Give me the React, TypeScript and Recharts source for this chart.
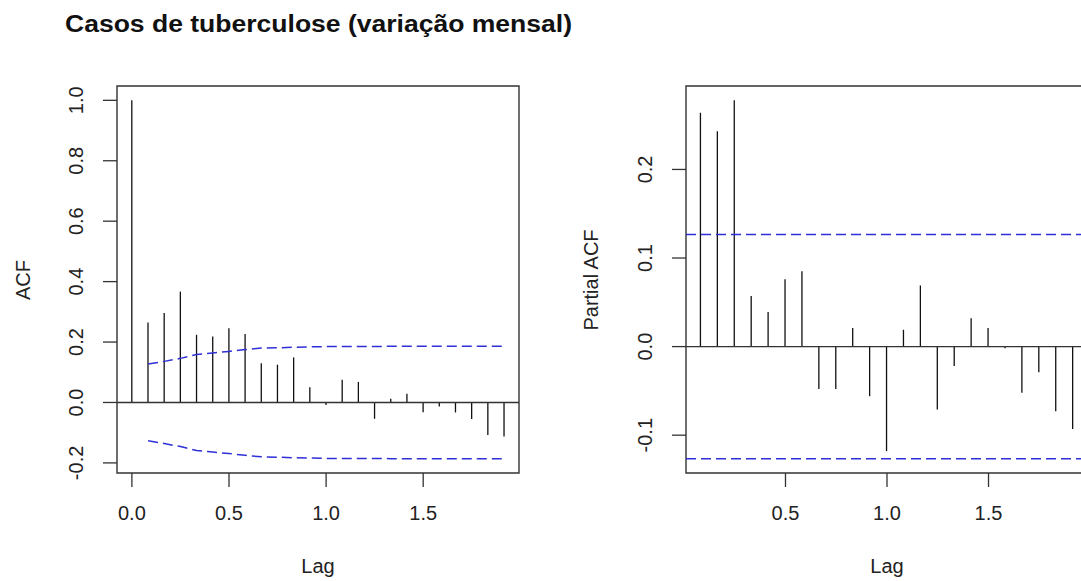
import { ComposedChart, Bar, Line, XAxis, YAxis, ReferenceLine, ReferenceArea } from 'recharts';

// lag in months (plotted as years: months / 12)
const lagMonths = [0, 1, 2, 3, 4, 5, 6, 7, 8, 9, 10, 11, 12, 13, 14, 15, 16, 17, 18, 19, 20, 21, 22, 23];

const acfValues = [
  1.0, 0.265, 0.296, 0.367, 0.224, 0.218, 0.246, 0.227, 0.13, 0.125, 0.149, 0.05,
  -0.008, 0.075, 0.068, -0.054, 0.012, 0.029, -0.032, -0.013, -0.033, -0.055, -0.108, -0.113,
];

// MA-type confidence bound, lags 1..23
const acfCi = [
  0.127, 0.136, 0.146, 0.159, 0.164, 0.169, 0.175, 0.18, 0.181, 0.183, 0.184, 0.185,
  0.185, 0.185, 0.185, 0.186, 0.186, 0.186, 0.186, 0.186, 0.186, 0.186, 0.186,
];

// partial ACF, lags 1..23
const pacfValues = [
  0.264, 0.243, 0.278, 0.057, 0.039, 0.076, 0.085, -0.048, -0.048, 0.021, -0.056, -0.118,
  0.019, 0.069, -0.071, -0.022, 0.032, 0.021, -0.002, -0.052, -0.029, -0.073, -0.093,
];
const pacfCi = 0.1265;

const acfXTicks = [0, 0.5, 1, 1.5];
const acfYTicks = [-0.2, 0, 0.2, 0.4, 0.6, 0.8, 1.0];
const pacfXTicks = [0.5, 1, 1.5];
const pacfYTicks = [-0.1, 0, 0.1, 0.2];

const acfXDomain = [-0.0767, 1.9933];
const acfYDomain = [-0.2334, 1.0474];
const pacfXDomain = [0.01, 1.99];
const pacfYDomain = [-0.1427, 0.2942];

const FONT = '"Liberation Sans", Arial, Helvetica, sans-serif';
const BLUE = '#2f2fd8';
const AXIS = '#333';
const DASH = '10 5';

const acfData = lagMonths.map((m, i) => ({
  lag: m / 12,
  acf: acfValues[i],
  upper: i === 0 ? null : acfCi[i - 1],
  lower: i === 0 ? null : -acfCi[i - 1],
}));

const pacfData = lagMonths.slice(1).map((m, i) => ({
  lag: m / 12,
  pacf: pacfValues[i],
}));

const Stem = (props: any) => {
  const { x, y, width, height } = props;
  if (x == null || y == null) return null;
  const cx = x + width / 2;
  return <line x1={cx} x2={cx} y1={y} y2={y + height} stroke="#111" strokeWidth={1.3} />;
};

const XTick = ({ x, y, payload }: any) => (
  <text x={x} y={y + 31} textAnchor="middle" fontSize={20} fontFamily={FONT} fill="#222">
    {Number(payload.value).toFixed(1)}
  </text>
);

const YTick = ({ x, y, payload }: any) => (
  <text
    transform={`translate(${x - 18},${y}) rotate(-90)`}
    textAnchor="middle"
    fontSize={20}
    fontFamily={FONT}
    fill="#222"
  >
    {Number(payload.value).toFixed(1)}
  </text>
);

export default function App() {
  return (
    <div
      style={{
        position: 'absolute',
        left: 0,
        top: 0,
        width: 1081,
        height: 581,
        overflow: 'hidden',
        background: '#fff',
      }}
    >
      {/* ACF */}
      <div style={{ position: 'absolute', left: 0, top: 0 }}>
        <ComposedChart
          width={540}
          height={581}
          data={acfData}
          margin={{ top: 86, right: 21, bottom: 0, left: 0 }}
        >
          <XAxis
            dataKey="lag"
            type="number"
            domain={acfXDomain}
            ticks={acfXTicks}
            allowDataOverflow
            height={108}
            tickSize={14}
            axisLine={false}
            tickLine={{ stroke: AXIS, strokeWidth: 1.3 }}
            tick={<XTick />}
            interval={0}
          />
          <YAxis
            type="number"
            domain={acfYDomain}
            ticks={acfYTicks}
            allowDataOverflow
            width={117}
            tickSize={14}
            axisLine={false}
            tickLine={{ stroke: AXIS, strokeWidth: 1.3 }}
            tick={<YTick />}
            interval={0}
          />
          <ReferenceLine y={0} stroke={AXIS} strokeWidth={1.3} />
          <Bar dataKey="acf" barSize={2} shape={<Stem />} isAnimationActive={false} />
          <Line dataKey="upper" stroke={BLUE} strokeWidth={1.5} strokeDasharray={DASH} dot={false} isAnimationActive={false} />
          <Line dataKey="lower" stroke={BLUE} strokeWidth={1.5} strokeDasharray={DASH} dot={false} isAnimationActive={false} />
          <ReferenceArea
            x1={acfXDomain[0]}
            x2={acfXDomain[1]}
            y1={acfYDomain[0]}
            y2={acfYDomain[1]}
            fill="none"
            fillOpacity={0}
            stroke={AXIS}
            strokeWidth={1.4}
            ifOverflow="visible"
          />
        </ComposedChart>
      </div>

      {/* PACF */}
      <div style={{ position: 'absolute', left: 560, top: 0 }}>
        <ComposedChart
          width={560}
          height={581}
          data={pacfData}
          margin={{ top: 86, right: 32, bottom: 0, left: 0 }}
        >
          <XAxis
            dataKey="lag"
            type="number"
            domain={pacfXDomain}
            ticks={pacfXTicks}
            allowDataOverflow
            height={108}
            tickSize={14}
            axisLine={false}
            tickLine={{ stroke: AXIS, strokeWidth: 1.3 }}
            tick={<XTick />}
            interval={0}
          />
          <YAxis
            type="number"
            domain={pacfYDomain}
            ticks={pacfYTicks}
            allowDataOverflow
            width={126}
            tickSize={14}
            axisLine={false}
            tickLine={{ stroke: AXIS, strokeWidth: 1.3 }}
            tick={<YTick />}
            interval={0}
          />
          <ReferenceLine y={0} stroke={AXIS} strokeWidth={1.3} />
          <ReferenceLine y={pacfCi} stroke={BLUE} strokeWidth={1.5} strokeDasharray={DASH} />
          <ReferenceLine y={-pacfCi} stroke={BLUE} strokeWidth={1.5} strokeDasharray={DASH} />
          <Bar dataKey="pacf" barSize={2} shape={<Stem />} isAnimationActive={false} />
          <ReferenceArea
            x1={pacfXDomain[0]}
            x2={pacfXDomain[1]}
            y1={pacfYDomain[0]}
            y2={pacfYDomain[1]}
            fill="none"
            fillOpacity={0}
            stroke={AXIS}
            strokeWidth={1.4}
            ifOverflow="visible"
          />
        </ComposedChart>
      </div>

      {/* titles */}
      <svg
        width={1081}
        height={581}
        style={{ position: 'absolute', left: 0, top: 0, pointerEvents: 'none' }}
        fontFamily={FONT}
      >
        <text x={65} y={32} fontSize={23} fontWeight="bold" fill="#111" textLength={507} lengthAdjust="spacingAndGlyphs">
          Casos de tuberculose (variação mensal)
        </text>
        <text x={318} y={573} fontSize={20} textAnchor="middle" fill="#222">
          Lag
        </text>
        <text x={887} y={573} fontSize={20} textAnchor="middle" fill="#222">
          Lag
        </text>
        <text transform="translate(30,280) rotate(-90)" fontSize={20} textAnchor="middle" fill="#222">
          ACF
        </text>
        <text transform="translate(598,280) rotate(-90)" fontSize={20} textAnchor="middle" fill="#222">
          Partial ACF
        </text>
      </svg>
    </div>
  );
}
